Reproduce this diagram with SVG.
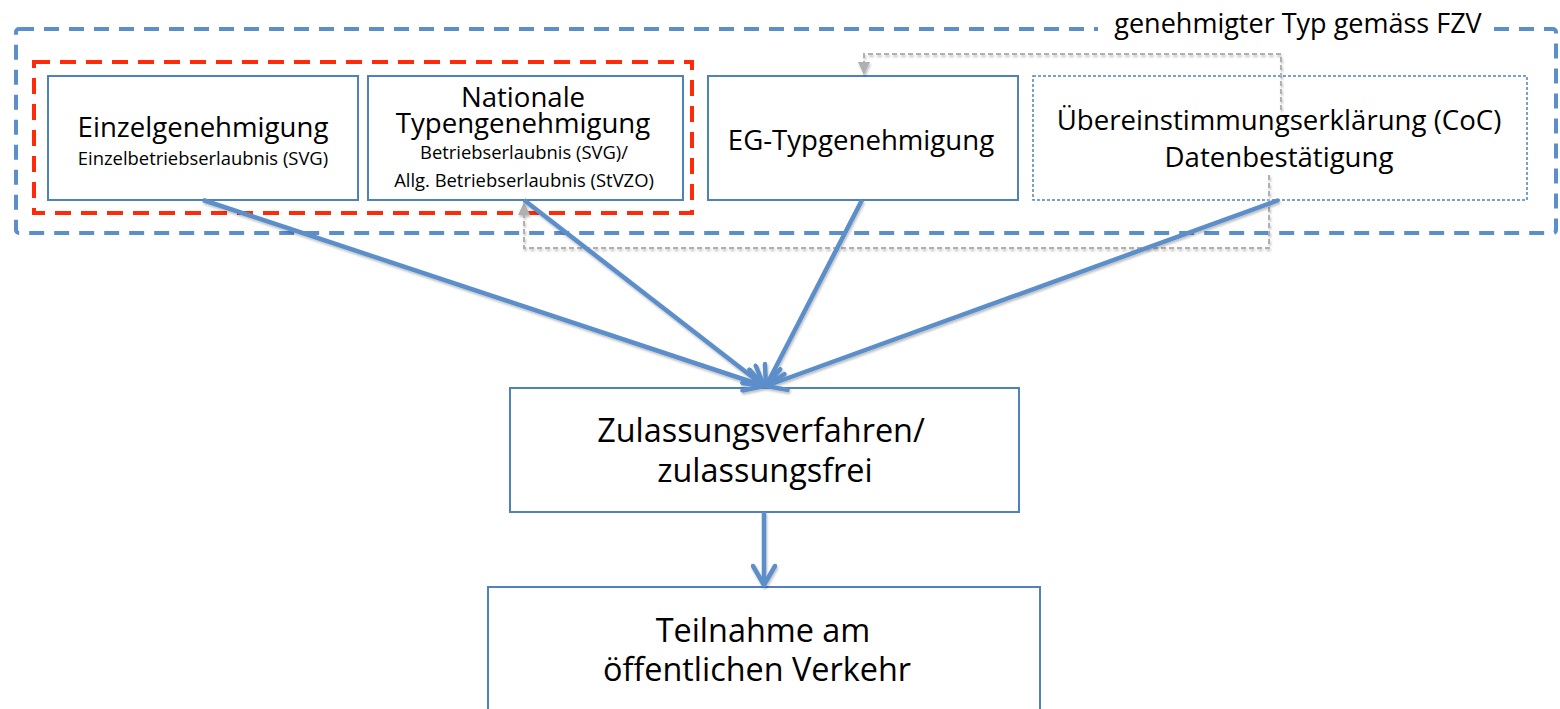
<svg xmlns="http://www.w3.org/2000/svg" width="1560" height="709" viewBox="0 0 1560 709">
<style>
text{font-family:"Open Sans","Liberation Sans",sans-serif;fill:#000;text-anchor:middle}
.box{fill:#fff;stroke:#4f81bd;stroke-width:2}
.dot{fill:#fff;stroke:#4f81bd;stroke-width:1.5;stroke-dasharray:3 2}
.main{font-size:27.6px}
.sub{font-size:18.4px}
.big{font-size:32.4px}
.arr{stroke:#5b8fca;stroke-width:4.5;fill:none;marker-end:url(#ah)}
.gray{stroke:#b0b0b0;stroke-width:2;fill:none;stroke-dasharray:5 3;marker-end:url(#gh)}
</style>
<defs>
<marker id="ah" markerUnits="userSpaceOnUse" markerWidth="26" markerHeight="26" viewBox="0 0 26 26" refX="22" refY="13" orient="auto">
<path d="M3,2 L22,13 L3,24" fill="none" stroke="#5b8fca" stroke-width="4.5" stroke-linecap="round" stroke-linejoin="round"/>
</marker>
<marker id="gh" markerUnits="userSpaceOnUse" markerWidth="14" markerHeight="14" viewBox="0 0 14 14" refX="12" refY="7" orient="auto">
<path d="M0,1 L13,7 L0,13 Z" fill="#b0b0b0"/>
</marker>
<filter id="sh" x="-10%" y="-10%" width="120%" height="130%">
<feDropShadow dx="1" dy="2" stdDeviation="1.2" flood-color="#000" flood-opacity="0.25"/>
</filter>
</defs>

<g id="container-fzv">
<rect x="16" y="29" width="1540" height="204" rx="3" fill="none" stroke="#5b8fca" stroke-width="4" stroke-dasharray="15 10"/>
<rect x="1098" y="14" width="394" height="30" fill="#fff"/>
<text x="1298" y="33" style="font-size:27px">genehmigter Typ gemäss FZV</text>
</g>

<g id="container-national">
<rect x="34" y="62" width="658" height="151" fill="none" stroke="#ff2a0a" stroke-width="4" stroke-dasharray="16 10"/>
</g>

<g id="node-einzel">
<rect class="box" x="48" y="76" width="310" height="124"/>
<text class="main" x="203" y="137">Einzelgenehmigung</text>
<text class="sub" x="203" y="165">Einzelbetriebserlaubnis (SVG)</text>
</g>

<g id="node-national">
<rect class="box" x="368" y="76" width="315" height="124"/>
<text class="main" x="523" y="107">Nationale</text>
<text class="main" x="523" y="133">Typengenehmigung</text>
<text class="sub" x="524" y="159">Betriebserlaubnis (SVG)/</text>
<text class="sub" x="524" y="187">Allg. Betriebserlaubnis (StVZO)</text>
</g>

<g id="node-eg">
<rect class="box" x="708" y="76" width="310" height="124"/>
<text class="main" x="861" y="150">EG-Typgenehmigung</text>
</g>

<g id="node-coc">
<rect class="dot" x="1033" y="76" width="494" height="124"/>
<text class="main" x="1279" y="130">Übereinstimmungserklärung (CoC)</text>
<text class="main" x="1279" y="167">Datenbestätigung</text>
</g>

<g id="node-zulassung">
<rect class="box" x="510" y="388" width="509" height="124"/>
<text class="big" x="761" y="442">Zulassungsverfahren/</text>
<text class="big" x="765" y="482">zulassungsfrei</text>
</g>

<g id="node-teilnahme">
<rect class="box" x="488" y="587" width="552" height="130"/>
<text class="big" x="763" y="642">Teilnahme am</text>
<text class="big" x="757" y="681">öffentlichen Verkehr</text>
</g>

<g id="connectors">
<g filter="url(#sh)">
<path class="gray" d="M1281,110 V54 H864 V74"/>
<path class="gray" d="M1269,175 V248 H524 V203"/>
</g>
<g filter="url(#sh)">
<line class="arr" x1="203" y1="200" x2="764" y2="386"/>
<line class="arr" x1="524" y1="200" x2="764" y2="386"/>
<line class="arr" x1="862" y1="200" x2="766" y2="386"/>
<line class="arr" x1="1279" y1="200" x2="766" y2="386"/>
<line class="arr" x1="764" y1="512" x2="764" y2="585"/>
</g>
</g>
</svg>
